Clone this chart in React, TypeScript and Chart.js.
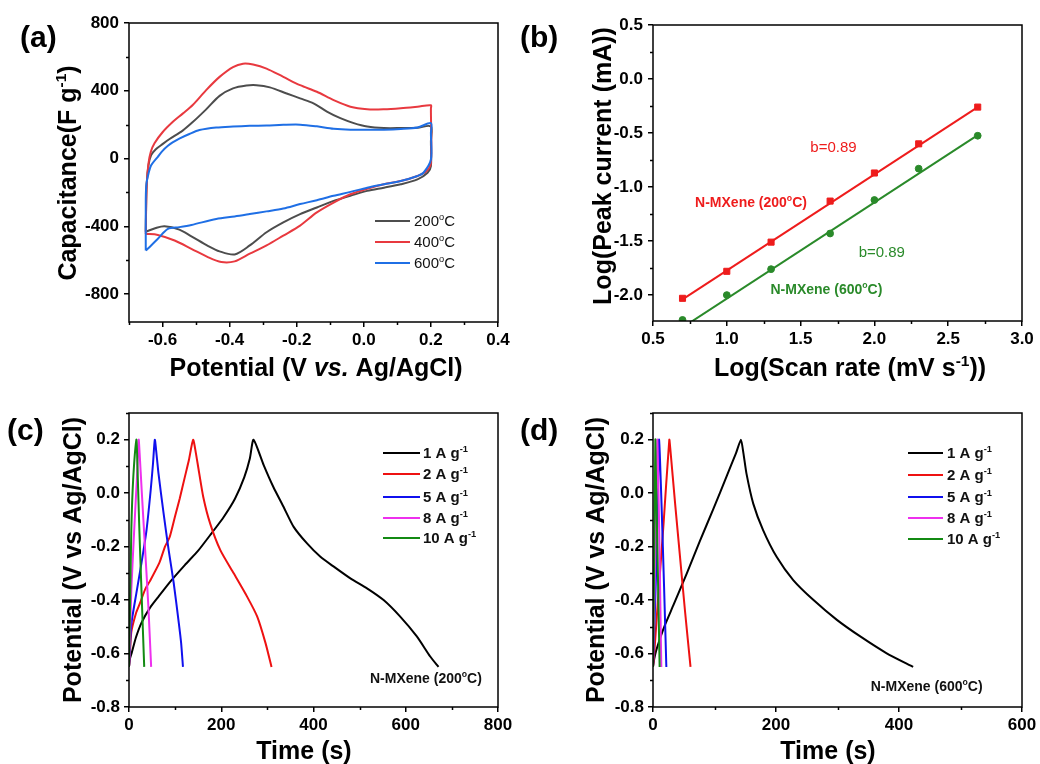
import React, { useEffect, useRef } from 'react';
import { Chart, registerables } from 'chart.js';

Chart.register(...registerables);

const FONT = '"Liberation Sans", Arial, Helvetica, sans-serif';

// ---------------- (a) cyclic voltammetry ----------------
const cvLabels = ['200', '400', '600'];
const cvPotential200 = [-0.65, -0.649, -0.647, -0.642, -0.634, -0.62, -0.6, -0.579, -0.54, -0.51, -0.47, -0.43, -0.39, -0.35, -0.32, -0.28, -0.23, -0.19, -0.15, -0.11, -0.07, -0.03, 0.01, 0.06, 0.11, 0.16, 0.2, 0.2, 0.2, 0.19, 0.16, 0.11, 0.06, 0.01, -0.04, -0.09, -0.14, -0.19, -0.24, -0.29, -0.34, -0.385, -0.43, -0.465, -0.514, -0.55, -0.594, -0.62, -0.65];
const cvCapacitance200 = [-432, -280, -140, -40, 20, 55, 85, 115, 165, 215, 290, 370, 414, 431, 433, 420, 384, 355, 326, 277, 238, 209, 189, 180, 180, 182, 189, 100, -45, -84, -123, -152, -172, -191, -220, -250, -289, -328, -377, -435, -513, -566, -548, -515, -459, -420, -400, -410, -432];
const cvPotential400 = [-0.65, -0.649, -0.647, -0.642, -0.635, -0.624, -0.6, -0.57, -0.54, -0.51, -0.47, -0.43, -0.39, -0.36, -0.33, -0.29, -0.24, -0.19, -0.14, -0.09, -0.04, 0.01, 0.06, 0.11, 0.16, 0.2, 0.2, 0.2, 0.187, 0.16, 0.11, 0.06, 0.01, -0.04, -0.09, -0.14, -0.19, -0.24, -0.29, -0.34, -0.385, -0.425, -0.465, -0.514, -0.564, -0.614, -0.65];
const cvCapacitance400 = [-445, -300, -150, -30, 40, 90, 155, 215, 265, 316, 404, 482, 540, 560, 555, 531, 482, 433, 394, 345, 306, 291, 291, 297, 306, 314, 295, -25, -74, -103, -133, -152, -178, -211, -260, -318, -396, -455, -513, -562, -607, -611, -582, -533, -484, -451, -445];
const cvPotential600 = [-0.65, -0.65, -0.648, -0.642, -0.634, -0.614, -0.6, -0.584, -0.57, -0.55, -0.52, -0.49, -0.44, -0.39, -0.34, -0.29, -0.24, -0.19, -0.14, -0.09, -0.04, 0.01, 0.06, 0.11, 0.16, 0.2, 0.2, 0.2, 0.178, 0.16, 0.11, 0.06, 0.01, -0.04, -0.09, -0.14, -0.19, -0.24, -0.29, -0.34, -0.385, -0.44, -0.514, -0.55, -0.584, -0.614, -0.634, -0.65];
const cvCapacitance600 = [-543, -240, -150, -90, -40, 10, 45, 75, 95, 118, 145, 168, 183, 189, 193, 195, 199, 200, 190, 176, 170, 170, 170, 174, 183, 209, 150, -6, -84, -103, -133, -152, -172, -197, -220, -246, -269, -295, -312, -328, -342, -357, -392, -405, -415, -474, -513, -543];

// ---------------- (b) b-value analysis ----------------
const logScanRate = [0.7, 1.0, 1.3, 1.7, 2.0, 2.3, 2.7];
const logPeak200 = [-2.03, -1.78, -1.51, -1.13, -0.87, -0.6, -0.26];
const logPeak600 = [-2.23, -2.0, -1.76, -1.43, -1.12, -0.83, -0.525];
const fitScanRate = [0.7, 2.7];
const fitPeak200 = [-2.04, -0.26];
const fitPeak600 = [-2.3, -0.52];
const bValues = ['0.89', '0.89'];

// ---------------- (c)/(d) galvanostatic charge-discharge ----------------
const currentDensities = ['1', '2', '5', '8', '10'];
const gcd200Time1 = [0, 2, 6, 15, 27, 45, 64, 90, 121, 150, 179, 205, 230, 250, 262, 270, 292, 313, 335, 357, 386, 415, 444, 480, 516, 552, 588, 624, 653, 671];
const gcd200Pot1 = [-0.65, -0.62, -0.597, -0.54, -0.485, -0.43, -0.387, -0.33, -0.269, -0.215, -0.15, -0.09, -0.02, 0.06, 0.13, 0.2, 0.105, 0.023, -0.051, -0.126, -0.188, -0.238, -0.275, -0.319, -0.356, -0.4, -0.462, -0.536, -0.611, -0.65];
const gcd200Time2 = [0, 2, 5, 15, 23, 35, 45, 66, 78, 88, 100, 110, 121, 130, 139, 145, 150, 161, 176, 198, 227, 256, 278, 296, 309];
const gcd200Pot2 = [-0.65, -0.6, -0.52, -0.45, -0.415, -0.36, -0.33, -0.26, -0.2, -0.165, -0.085, -0.02, 0.06, 0.125, 0.2, 0.15, 0.098, -0.014, -0.114, -0.213, -0.3, -0.387, -0.462, -0.561, -0.65];
const gcd200Time5 = [0, 2, 5, 16, 27, 38, 47, 52, 56, 60, 64, 75, 86, 97, 108, 113, 117];
const gcd200Pot5 = [-0.65, -0.58, -0.49, -0.374, -0.262, -0.138, 0.011, 0.11, 0.2, 0.14, 0.073, -0.076, -0.213, -0.337, -0.486, -0.56, -0.65];
const gcd200Time8 = [0, 2, 5, 12, 17, 21, 23, 27.5, 35, 42, 48];
const gcd200Pot8 = [-0.65, -0.55, -0.362, -0.113, 0.05, 0.2, 0.15, 0.011, -0.213, -0.424, -0.65];
const gcd200Time10 = [0, 2, 5, 9, 16, 17.5, 22, 27, 33];
const gcd200Pot10 = [-0.65, -0.45, -0.14, 0.05, 0.2, 0.15, -0.113, -0.362, -0.65];

const gcd600Time1 = [0, 2, 5, 12, 20, 33, 55, 76, 98, 120, 135, 143, 147, 152, 163, 179, 201, 228, 261, 299, 337, 380, 423];
const gcd600Pot1 = [-0.65, -0.62, -0.59, -0.54, -0.49, -0.42, -0.3, -0.18, -0.06, 0.065, 0.15, 0.2, 0.15, 0.073, -0.039, -0.138, -0.238, -0.325, -0.4, -0.474, -0.536, -0.599, -0.65];
const gcd600Time2 = [0, 2, 9, 17, 26.5, 28, 36, 44, 52, 61];
const gcd600Pot2 = [-0.65, -0.6, -0.37, -0.12, 0.2, 0.17, -0.04, -0.24, -0.44, -0.65];
const gcd600Time5 = [0, 1.5, 5, 9.8, 11, 14, 18, 21.7];
const gcd600Pot5 = [-0.65, -0.55, -0.3, 0.2, 0.15, -0.05, -0.35, -0.65];
const gcd600Time8 = [0, 3, 7, 8, 10.5, 13.5];
const gcd600Pot8 = [-0.65, -0.3, 0.2, 0.12, -0.2, -0.65];
const gcd600Time10 = [0, 1.5, 3.8, 4.5, 7.5, 10.8];
const gcd600Pot10 = [-0.65, -0.35, 0.2, 0.1, -0.25, -0.65];

// ---------------- styles ----------------
const cvColors = ['#4d4d4d', '#e8393f', '#1f6fe5'];
const gcdColors = ['#000000', '#ee1111', '#1010ee', '#ee30ee', '#138a13'];
const red = '#ee1c1c';
const green = '#2a8a2a';

const zip = (xs: number[], ys: number[]) => xs.map((x, i) => ({ x, y: ys[i] }));
const fmt1 = (v: number) => (Math.abs(v) < 1e-9 ? 0 : v).toFixed(1);
const fmt0 = (v: number) => String(Math.round(v));

type Seg = { t: string; sup?: boolean; it?: boolean };
type Label = { segs: Seg[]; x: number; y: number; size: number; bold?: boolean; color?: string; align?: 'left' | 'center' | 'right'; rot?: number; data?: boolean };
type Legend = { x1: number; x2: number; tx: number; size: number; bold: boolean; rows: { segs: Seg[]; color: string; y: number }[] };
type Decor = { labels: Label[]; legend?: Legend; minorX: number; majorX: number; minorY: number; majorY: number };

const fontOf = (size: number, bold?: boolean, it?: boolean) => `${it ? 'italic ' : ''}${bold ? 'bold ' : ''}${size}px ${FONT}`;

function drawRich(ctx: CanvasRenderingContext2D, segs: Seg[], x: number, y: number, size: number, bold: boolean, color: string, align: string, rot: number) {
  const supSize = size * 0.62;
  const widths = segs.map((s) => {
    ctx.font = fontOf(s.sup ? supSize : size, bold, s.it);
    return ctx.measureText(s.t).width;
  });
  const total = widths.reduce((a, b) => a + b, 0);
  ctx.save();
  ctx.translate(x, y);
  if (rot) ctx.rotate(rot);
  ctx.fillStyle = color;
  ctx.textBaseline = 'alphabetic';
  ctx.textAlign = 'left';
  let cx = align === 'center' ? -total / 2 : align === 'right' ? -total : 0;
  const base = size * 0.36;
  segs.forEach((s, i) => {
    ctx.font = fontOf(s.sup ? supSize : size, bold, s.it);
    ctx.fillText(s.t, cx, s.sup ? base - size * 0.42 : base);
    cx += widths[i];
  });
  ctx.restore();
}

function makeDecor(d: Decor) {
  return {
    id: 'decor',
    afterDraw(chart: any) {
      const { ctx, chartArea: a, scales } = chart;
      const xs = scales.x;
      const ys = scales.y;
      ctx.save();
      ctx.strokeStyle = '#000';
      ctx.lineWidth = 1.5;
      ctx.strokeRect(a.left, a.top, a.right - a.left, a.bottom - a.top);
      ctx.beginPath();
      for (let k = Math.ceil(xs.min / d.minorX - 1e-9); k * d.minorX <= xs.max + 1e-9; k++) {
        const v = k * d.minorX;
        const r = v / d.majorX;
        if (Math.abs(r - Math.round(r)) < 1e-6) continue;
        const px = Math.round(xs.getPixelForValue(v)) + 0.5;
        ctx.moveTo(px, a.bottom);
        ctx.lineTo(px, a.bottom + 3);
      }
      for (let k = Math.ceil(ys.min / d.minorY - 1e-9); k * d.minorY <= ys.max + 1e-9; k++) {
        const v = k * d.minorY;
        const r = v / d.majorY;
        if (Math.abs(r - Math.round(r)) < 1e-6) continue;
        const py = Math.round(ys.getPixelForValue(v)) + 0.5;
        ctx.moveTo(a.left, py);
        ctx.lineTo(a.left - 3, py);
      }
      ctx.stroke();
      d.labels.forEach((l) => {
        const x = l.data ? xs.getPixelForValue(l.x) : l.x;
        const y = l.data ? ys.getPixelForValue(l.y) : l.y;
        drawRich(ctx, l.segs, x, y, l.size, !!l.bold, l.color || '#000', l.align || 'left', l.rot || 0);
      });
      if (d.legend) {
        const g = d.legend;
        g.rows.forEach((r) => {
          ctx.beginPath();
          ctx.strokeStyle = r.color;
          ctx.lineWidth = 2;
          ctx.moveTo(g.x1, r.y);
          ctx.lineTo(g.x2, r.y);
          ctx.stroke();
          drawRich(ctx, r.segs, g.tx, r.y, g.size, g.bold, '#111', 'left', 0);
        });
      }
      ctx.restore();
    },
  };
}

type AxisSpec = { min: number; max: number; step: number; fmt: (v: number) => string; size: number; pad: number };

function makeOptions(x: AxisSpec, y: AxisSpec, top: number, right: number) {
  const tickFont = { family: FONT, size: 17, weight: 'bold' as const };
  const axis = (s: AxisSpec, pos: 'left' | 'bottom') => ({
    type: 'linear' as const,
    position: pos,
    min: s.min,
    max: s.max,
    afterFit: (scale: any) => {
      if (pos === 'left') scale.width = s.size;
      else scale.height = s.size;
    },
    border: { display: false },
    grid: { display: true, drawOnChartArea: false, drawTicks: true, tickLength: 5, lineWidth: 1.5, tickWidth: 1.5, tickColor: '#000', color: '#000' },
    ticks: {
      stepSize: s.step,
      includeBounds: false,
      autoSkip: false,
      maxRotation: 0,
      minRotation: 0,
      padding: s.pad,
      color: '#000',
      font: tickFont,
      callback: (v: any) => s.fmt(Number(v)),
    },
  });
  return {
    responsive: false,
    maintainAspectRatio: false,
    animation: false as const,
    devicePixelRatio: 1,
    layout: { padding: { left: 0, top, right, bottom: 0 } },
    plugins: { legend: { display: false }, tooltip: { enabled: false }, title: { display: false } },
    scales: { x: axis(x, 'bottom'), y: axis(y, 'left') },
  };
}

const lineDs = (data: any[], color: string, order: number, tension: number, width = 2) => ({
  data,
  showLine: true,
  borderColor: color,
  backgroundColor: color,
  borderWidth: width,
  pointRadius: 0,
  fill: false,
  tension,
  order,
});

const degSegs = (pre: string, temp: string, post: string): Seg[] => [{ t: pre + temp }, { t: 'o', sup: true }, { t: 'C' + post }];

function configA(): any {
  const series = [
    [cvPotential200, cvCapacitance200],
    [cvPotential400, cvCapacitance400],
    [cvPotential600, cvCapacitance600],
  ];
  return {
    type: 'scatter',
    data: { datasets: series.map((s, i) => lineDs(zip(s[0], s[1]), cvColors[i], -i, 0.3)) },
    options: makeOptions(
      { min: -0.7, max: 0.4, step: 0.2, fmt: fmt1, size: 68, pad: 3 },
      { min: -965, max: 800, step: 400, fmt: fmt0, size: 129, pad: 5 },
      23,
      22,
    ),
    plugins: [
      makeDecor({
        minorX: 0.1, majorX: 0.2, minorY: 200, majorY: 400,
        labels: [
          { segs: [{ t: '(a)' }], x: 20, y: 36, size: 30, bold: true },
          { segs: [{ t: 'Capacitance(F g' }, { t: '-1', sup: true }, { t: ')' }], x: 67, y: 173, size: 25, bold: true, align: 'center', rot: -Math.PI / 2 },
          { segs: [{ t: 'Potential (V ' }, { t: 'vs.', it: true }, { t: ' Ag/AgCl)' }], x: 316, y: 367, size: 25, bold: true, align: 'center' },
        ],
        legend: {
          x1: 375, x2: 410, tx: 414, size: 15, bold: false,
          rows: cvLabels.map((l, i) => ({ segs: degSegs('', l, ''), color: cvColors[i], y: 221 + i * 21 })),
        },
      }),
    ],
  };
}

function configB(): any {
  return {
    type: 'scatter',
    data: {
      datasets: [
        { data: zip(logScanRate, logPeak200), showLine: false, pointStyle: 'rect', pointRadius: 4.3, backgroundColor: red, borderColor: red, borderWidth: 1, order: 0 },
        { data: zip(logScanRate, logPeak600), showLine: false, pointStyle: 'circle', pointRadius: 3.4, backgroundColor: green, borderColor: green, borderWidth: 1, order: 1 },
        lineDs(zip(fitScanRate, fitPeak200), red, 2, 0),
        lineDs(zip(fitScanRate, fitPeak600), green, 3, 0),
      ],
    },
    options: makeOptions(
      { min: 0.5, max: 3.0, step: 0.5, fmt: fmt1, size: 69, pad: 3 },
      { min: -2.24, max: 0.5, step: 0.5, fmt: fmt1, size: 133, pad: 5 },
      25,
      18,
    ),
    plugins: [
      makeDecor({
        minorX: 0.25, majorX: 0.5, minorY: 0.25, majorY: 0.5,
        labels: [
          { segs: [{ t: '(b)' }], x: 0, y: 36, size: 30, bold: true },
          { segs: [{ t: 'Log(Peak current (mA))' }], x: 82, y: 166, size: 25, bold: true, align: 'center', rot: -Math.PI / 2 },
          { segs: [{ t: 'Log(Scan rate (mV s' }, { t: '-1', sup: true }, { t: '))' }], x: 330, y: 367, size: 25, bold: true, align: 'center' },
          { segs: [{ t: 'b=' + bValues[0] }], x: 1.723, y: -0.63, data: true, size: 15, color: red, align: 'center' },
          { segs: degSegs('N-MXene (', '200', ')'), x: 1.164, y: -1.139, data: true, size: 14, bold: true, color: red, align: 'center' },
          { segs: [{ t: 'b=' + bValues[1] }], x: 2.05, y: -1.593, data: true, size: 15, color: green, align: 'center' },
          { segs: degSegs('N-MXene (', '600', ')'), x: 1.675, y: -1.944, data: true, size: 14, bold: true, color: green, align: 'center' },
        ],
      }),
    ],
  };
}

function configGcd(
  series: number[][][],
  xMax: number,
  yAxisW: number,
  right: number,
  panel: string,
  temp: string,
  labelX: number,
  yTitleX: number,
  xTitleX: number,
  annX: number,
  annY: number,
  leg: { x1: number; x2: number; tx: number; ys: number[] },
): any {
  return {
    type: 'scatter',
    data: { datasets: series.map((s, i) => lineDs(zip(s[0], s[1]), gcdColors[i], -i, 0.2)) },
    options: makeOptions(
      { min: 0, max: xMax, step: 200, fmt: fmt0, size: 57, pad: 3 },
      { min: -0.8, max: 0.3, step: 0.2, fmt: fmt1, size: yAxisW, pad: 4 },
      23,
      right,
    ),
    plugins: [
      makeDecor({
        minorX: 100, majorX: 200, minorY: 0.1, majorY: 0.2,
        labels: [
          { segs: [{ t: panel }], x: labelX, y: 39, size: 30, bold: true },
          { segs: [{ t: 'Potential (V vs Ag/AgCl)' }], x: yTitleX, y: 170, size: 25, bold: true, align: 'center', rot: -Math.PI / 2 },
          { segs: [{ t: 'Time (s)' }], x: xTitleX, y: 360, size: 25, bold: true, align: 'center' },
          { segs: degSegs('N-MXene (', temp, ')'), x: annX, y: annY, data: true, size: 14, bold: true, color: '#111', align: 'right' },
        ],
        legend: {
          x1: leg.x1, x2: leg.x2, tx: leg.tx, size: 15, bold: true,
          rows: currentDensities.map((c, i) => ({ segs: [{ t: c + ' A g' }, { t: '-1', sup: true }], color: gcdColors[i], y: leg.ys[i] })),
        },
      }),
    ],
  };
}

function configC(): any {
  return configGcd(
    [
      [gcd200Time1, gcd200Pot1],
      [gcd200Time2, gcd200Pot2],
      [gcd200Time5, gcd200Pot5],
      [gcd200Time8, gcd200Pot8],
      [gcd200Time10, gcd200Pot10],
    ],
    800, 129, 22, '(c)', '200', 7, 72, 304, 765, -0.69,
    { x1: 383, x2: 420, tx: 423, ys: [63, 84, 107, 128, 148] },
  );
}

function configD(): any {
  return configGcd(
    [
      [gcd600Time1, gcd600Pot1],
      [gcd600Time2, gcd600Pot2],
      [gcd600Time5, gcd600Pot5],
      [gcd600Time8, gcd600Pot8],
      [gcd600Time10, gcd600Pot10],
    ],
    600, 133, 18, '(d)', '600', 0, 75, 308, 536, -0.72,
    { x1: 388, x2: 423, tx: 427, ys: [63, 85, 107, 128, 149] },
  );
}

export default function App() {
  const refA = useRef<HTMLCanvasElement>(null);
  const refB = useRef<HTMLCanvasElement>(null);
  const refC = useRef<HTMLCanvasElement>(null);
  const refD = useRef<HTMLCanvasElement>(null);

  useEffect(() => {
    const charts = [
      new Chart(refA.current as HTMLCanvasElement, configA()),
      new Chart(refB.current as HTMLCanvasElement, configB()),
      new Chart(refC.current as HTMLCanvasElement, configC()),
      new Chart(refD.current as HTMLCanvasElement, configD()),
    ];
    return () => charts.forEach((c) => c.destroy());
  }, []);

  const pos = (left: number, top: number, h: number): React.CSSProperties => ({ position: 'absolute', left, top, width: 520, height: h, display: 'block' });

  return (
    <div style={{ position: 'fixed', left: 0, top: 0, width: 1040, height: 764, background: '#fff', overflow: 'hidden' }}>
      <canvas ref={refA} width={520} height={390} style={pos(0, 0, 390)} />
      <canvas ref={refB} width={520} height={390} style={pos(520, 0, 390)} />
      <canvas ref={refC} width={520} height={374} style={pos(0, 390, 374)} />
      <canvas ref={refD} width={520} height={374} style={pos(520, 390, 374)} />
    </div>
  );
}
